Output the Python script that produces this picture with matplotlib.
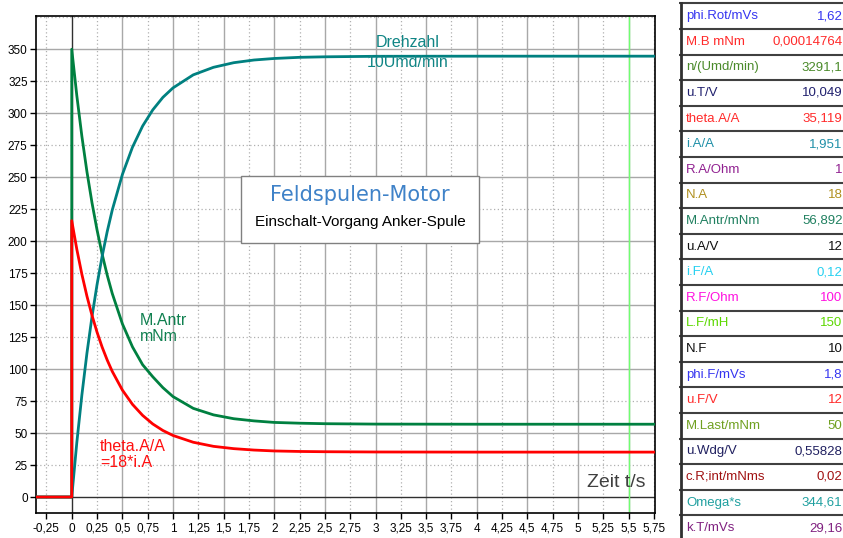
import matplotlib
matplotlib.use("Agg")
import matplotlib.pyplot as plt
import numpy as np
from matplotlib.patches import Rectangle

plt.rcParams['font.family'] = ['Liberation Sans', 'DejaVu Sans']

zeit = [-0.35, 0, 0, 0.05, 0.1, 0.15, 0.2, 0.25, 0.3, 0.35, 0.4, 0.5, 0.6, 0.7, 0.8,
        0.9, 1.0, 1.2, 1.4, 1.6, 1.8, 2.0, 2.25, 2.5, 3.0, 4.0, 5.0, 5.75]
drehzahl = [0, 0, 0, 42.5, 79.7, 112.4, 141.0, 166.1, 188.1, 207.4, 224.3, 252.1, 273.5,
            290.0, 302.6, 312.4, 319.8, 330.0, 335.9, 339.5, 341.6, 342.8, 343.7, 344.1,
            344.5, 344.6, 344.6, 344.6]
m_antr = [0, 0, 350, 313.8, 282.0, 254.3, 230.0, 208.7, 189.9, 173.5, 159.1, 135.4, 117.3,
          103.4, 94.0, 85.5, 78.5, 69.3, 64.2, 61.2, 59.5, 58.3, 57.7, 57.3, 57.0, 56.9,
          56.9, 56.9]
theta_a = [0, 0, 216, 193.7, 174.1, 157.0, 142.0, 128.8, 117.2, 107.1, 98.2, 83.6, 72.4,
           63.8, 57.1, 52.0, 48.1, 42.8, 39.6, 37.8, 36.7, 36.0, 35.6, 35.4, 35.2, 35.1,
           35.1, 35.1]

x_ticks = [-0.25, 0, 0.25, 0.5, 0.75, 1, 1.25, 1.5, 1.75, 2, 2.25, 2.5, 2.75, 3, 3.25,
           3.5, 3.75, 4, 4.25, 4.5, 4.75, 5, 5.25, 5.5, 5.75]
x_tick_labels = ["-0,25", "0", "0,25", "0,5", "0,75", "1", "1,25", "1,5", "1,75", "2",
                 "2,25", "2,5", "2,75", "3", "3,25", "3,5", "3,75", "4", "4,25", "4,5",
                 "4,75", "5", "5,25", "5,5", "5,75"]
y_ticks = [0, 25, 50, 75, 100, 125, 150, 175, 200, 225, 250, 275, 300, 325, 350]
marker_zeit = 5.5

# Tabelle rechts
tab_namen = ["phi.Rot/mVs", "M.B mNm", "n/(Umd/min)", "u.T/V", "theta.A/A", "i.A/A",
             "R.A/Ohm", "N.A", "M.Antr/mNm", "u.A/V", "i.F/A", "R.F/Ohm", "L.F/mH", "N.F",
             "phi.F/mVs", "u.F/V", "M.Last/mNm", "u.Wdg/V", "c.R;int/mNms", "Omega*s",
             "k.T/mVs"]
tab_werte = ["1,62", "0,00014764", "3291,1", "10,049", "35,119", "1,951", "1", "18",
             "56,892", "12", "0,12", "100", "150", "10", "1,8", "12", "50", "0,55828",
             "0,02", "344,61", "29,16"]
tab_farben = ["#3535f0", "#ff2a2a", "#4a8a2a", "#20206e", "#ff2a2a", "#2090a8", "#902090",
              "#b09020", "#208060", "#101010", "#25d0f0", "#ff10e0", "#5cd800", "#101010",
              "#3535f0", "#ff2a2a", "#70a020", "#202060", "#a01010", "#20a0a0", "#802080"]

# ---- Diagramm ----
fig = plt.figure(figsize=(8.43, 5.38), dpi=100)
ax = fig.add_axes([36/843, 25/538, 619/843, 497/538])

ax.set_xlim(-0.353, 5.76)
ax.set_ylim(-12.5, 376)

# Raster
for xv in np.arange(-0.25, 5.8, 0.25):
    if abs(xv) < 1e-9:
        continue
    if abs(xv * 2 - round(xv * 2)) < 1e-9:
        ax.axvline(xv, color="#a8a8a8", lw=1.0, zorder=0)
    else:
        ax.axvline(xv, color="#b0b0b0", lw=0.9, ls=(0, (1, 2)), zorder=0)
for yv in np.arange(25, 376, 25):
    if yv % 50 == 0:
        ax.axhline(yv, color="#a8a8a8", lw=1.0, zorder=0)
    else:
        ax.axhline(yv, color="#b0b0b0", lw=0.9, ls=(0, (1, 2)), zorder=0)
ax.axvline(0, color="#303030", lw=1.0, zorder=1)
ax.axhline(0, color="#303030", lw=1.0, zorder=1)
ax.axvline(marker_zeit, color="#70ff70", lw=1.0, zorder=1)

ax.plot(zeit, m_antr, color="#008040", lw=2.0, zorder=3)
ax.plot(zeit, drehzahl, color="#008080", lw=2.0, zorder=3)
ax.plot(zeit, theta_a, color="#ff0000", lw=2.0, zorder=4)

ax.set_xticks(x_ticks)
ax.set_xticklabels(x_tick_labels)
ax.set_yticks(y_ticks)
ax.tick_params(axis="both", direction="out", length=4, width=1, labelsize=8.5,
               colors="black", pad=2)
ax.tick_params(axis="x", pad=3)
for sp in ax.spines.values():
    sp.set_color("black")
    sp.set_linewidth(1.2)

ax.text(3.313, 355, "Drehzahl", color="#108585", fontsize=11.5,
        ha="center", va="center", zorder=5)
ax.text(3.313, 339.5, "10Umd/min", color="#108585", fontsize=11.5,
        ha="center", va="center", zorder=5)
ax.text(0.675, 131.6, "M.Antr\nmNm", color="#108050", fontsize=11.5,
        ha="left", va="center", linespacing=1.05, zorder=5)
ax.text(0.28, 33.2, "theta.A/A\n=18*i.A", color="#ff1010", fontsize=11.5,
        ha="left", va="center", linespacing=1.1, zorder=5)
ax.text(5.665, 11, "Zeit t/s", color="#404040", fontsize=14,
        ha="right", va="center", zorder=5)

# Titelkasten
fig.add_artist(Rectangle((241/843, 1 - 243/538), 238/843, 67/538,
                         transform=fig.transFigure, facecolor="white",
                         edgecolor="#808080", lw=1.0, zorder=5))
fig.text(360/843, 1 - 195/538, "Feldspulen-Motor", color="#3f82c8",
         fontsize=15, family="DejaVu Sans", ha="center", va="center", zorder=6)
fig.text(360/843, 1 - 222/538, "Einschalt-Vorgang Anker-Spule", color="black",
         fontsize=11, ha="center", va="center", zorder=6)

# ---- Tabelle ----
ax_t = fig.add_axes([679/843, 0, 164/843, 1])
ax_t.set_xlim(0, 164)
ax_t.set_ylim(538, 0)
ax_t.axis("off")
row_h = 25.6
top = 3.3
for i, (name, wert, farbe) in enumerate(zip(tab_namen, tab_werte, tab_farben)):
    y0 = top + i * row_h
    ax_t.plot([0, 164], [y0, y0], color="#404040", lw=1.5, solid_capstyle="butt")
    ax_t.text(7, y0 + row_h / 2, name, color=farbe, fontsize=9.5,
              ha="left", va="center")
    ax_t.text(163.5, y0 + row_h / 2, wert, color=farbe, fontsize=9.5,
              ha="right", va="center")
ax_t.plot([2, 2], [top, 538], color="#303030", lw=2.0)

fig.savefig("out.png", dpi=100)
